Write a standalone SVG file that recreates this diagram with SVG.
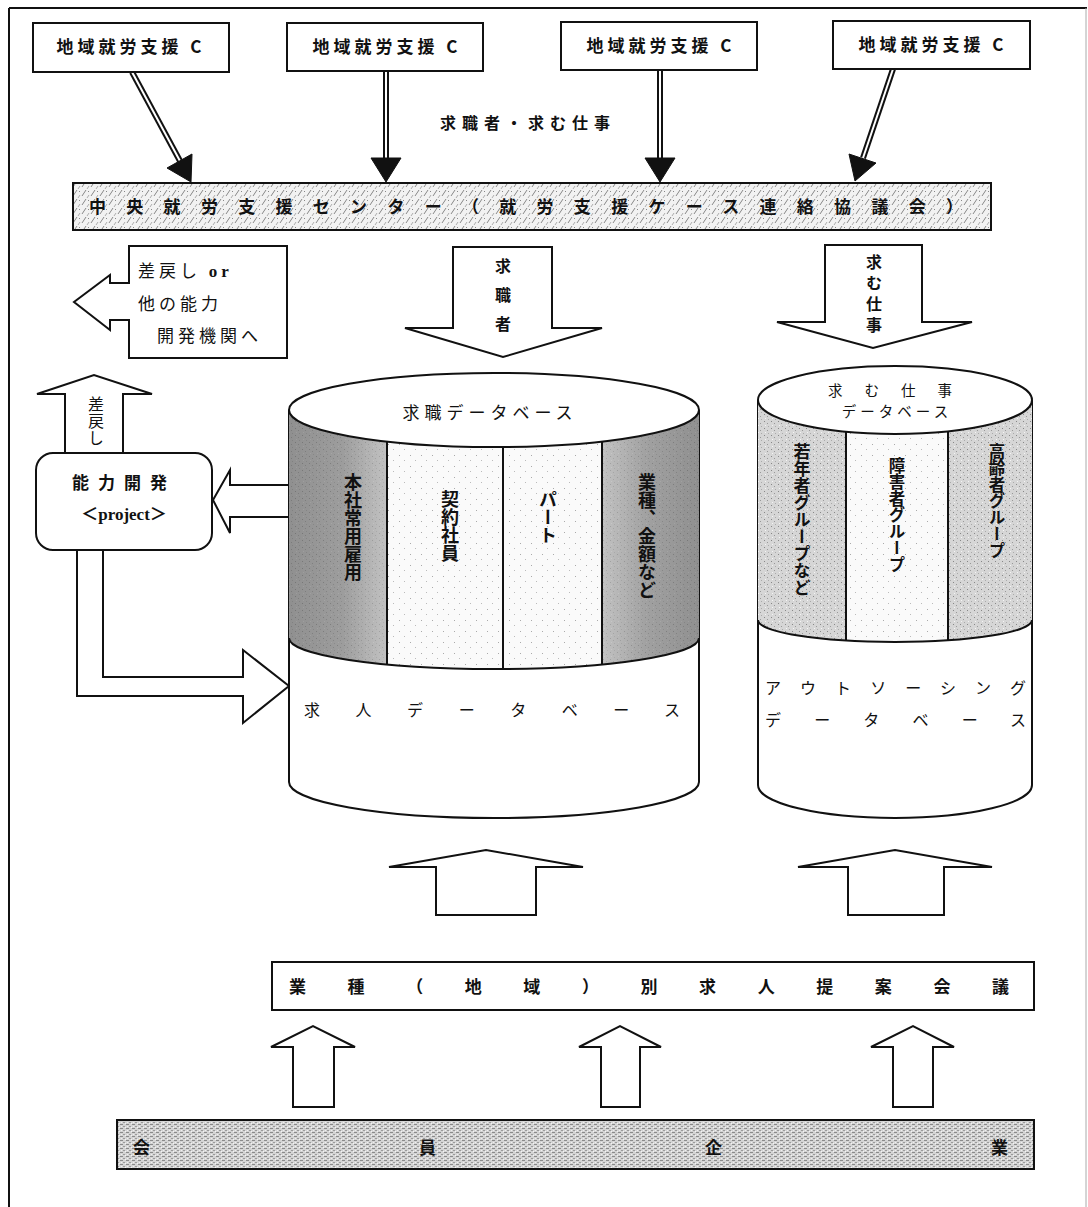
<svg xmlns="http://www.w3.org/2000/svg" width="1088" height="1207" viewBox="0 0 1088 1207">
<style>
text{font-family:"Noto Sans CJK JP","Noto Sans CJK SC",sans-serif;fill:#111}
.b{font-weight:700}
.box{fill:#fff;stroke:#111;stroke-width:2}
.ln{fill:none;stroke:#111;stroke-width:2}
.blk{fill:#111;stroke:#111;stroke-width:1}
.shaftO{fill:none;stroke:#111;stroke-width:6}
.shaftI{fill:none;stroke:#fff;stroke-width:2}
.fat{fill:#fff;stroke:#111;stroke-width:2;stroke-linejoin:miter}
.vt{writing-mode:vertical-rl;font-weight:700}
.vn{writing-mode:vertical-rl}
.lat{font-family:"Liberation Serif",serif;font-weight:700}
</style>
<defs>
<pattern id="hatch" width="9" height="9" patternUnits="userSpaceOnUse">
<rect width="9" height="9" fill="#f2f2f2"/>
<path d="M1 7 L5 1" stroke="#7a7a7a" stroke-width="0.9"/>
<path d="M6 9 L8 6" stroke="#999" stroke-width="0.8"/>
<rect x="7" y="2" width="1" height="1" fill="#888"/>
</pattern>
<pattern id="screen" width="6" height="4" patternUnits="userSpaceOnUse">
<rect width="6" height="4" fill="#d4d4d4"/>
<rect x="0" y="0" width="3" height="1" fill="#8a8a8a"/>
<rect x="3" y="2" width="2" height="1" fill="#9a9a9a"/>
<rect x="5" y="3" width="1" height="1" fill="#f4f4f4"/>
<rect x="1" y="2" width="1" height="1" fill="#f0f0f0"/>
</pattern>
<pattern id="speck" width="7" height="7" patternUnits="userSpaceOnUse">
<rect width="7" height="7" fill="#d6d6d6"/>
<rect x="1" y="1" width="1" height="1" fill="#888"/>
<rect x="4" y="3" width="1" height="1" fill="#999"/>
<rect x="2" y="5" width="1" height="1" fill="#f4f4f4"/>
<rect x="5" y="6" width="1" height="1" fill="#aaa"/>
</pattern>
<pattern id="lightspeck" width="11" height="11" patternUnits="userSpaceOnUse">
<rect width="11" height="11" fill="#fafafa"/>
<rect x="3" y="4" width="1" height="1" fill="#aaa"/>
<rect x="8" y="9" width="1" height="1" fill="#bbb"/>
</pattern>
<linearGradient id="darkL" x1="0" x2="1" y1="0" y2="0">
<stop offset="0" stop-color="#6a6a6a"/>
<stop offset="0.55" stop-color="#7e7e7e"/>
<stop offset="1" stop-color="#b8b8b8"/>
</linearGradient>
<linearGradient id="darkR" x1="0" x2="1" y1="0" y2="0">
<stop offset="0" stop-color="#b8b8b8"/>
<stop offset="0.45" stop-color="#858585"/>
<stop offset="1" stop-color="#6a6a6a"/>
</linearGradient>
<clipPath id="band1"><path d="M289 410 A205 37 0 0 0 699 410 L699 638 A205 31 0 0 1 289 638 Z"/></clipPath>
<clipPath id="band2"><path d="M758 400 A137 34 0 0 0 1032 400 L1032 620 A137 22 0 0 1 758 620 Z"/></clipPath>
</defs>

<g id="frame">
<path d="M9 8 L1087 8" stroke="#111" stroke-width="2"/>
<path d="M9 8 L9 1207" stroke="#111" stroke-width="2"/>
<path d="M1086 8 L1086 1207" stroke="#aaa" stroke-width="1"/>
</g>

<g id="connectors">
<g id="arrow-c1">
<path class="shaftO" d="M132 72 L180 161"/><path class="shaftI" d="M132 72 L180 161"/>
<polygon class="blk" points="191,182 192,154 167,168"/>
</g>
<g id="arrow-c2">
<path class="shaftO" d="M386 71 L386 160"/><path class="shaftI" d="M386 71 L386 160"/>
<polygon class="blk" points="386,182 371,158 401,158"/>
</g>
<g id="arrow-c3">
<path class="shaftO" d="M660 70 L660 160"/><path class="shaftI" d="M660 70 L660 160"/>
<polygon class="blk" points="660,182 645,158 675,158"/>
</g>
<g id="arrow-c4">
<path class="shaftO" d="M893 69 L863 158"/><path class="shaftI" d="M893 69 L863 158"/>
<polygon class="blk" points="855,181 849,154 876,163"/>
</g>
<text x="440" y="129" font-size="16" class="b" letter-spacing="6">求職者・求む仕事</text>

<g id="arrow-kyushokusha">
<polygon class="fat" points="453,247 552,247 552,328 602,328 503,357 405,328 453,328"/>
<text x="503" y="258" font-size="16" class="vt" letter-spacing="13">求職者</text>
</g>
<g id="arrow-motomushigoto">
<polygon class="fat" points="825,245 922,245 922,322 972,322 873,348 777,322 825,322"/>
<text x="874" y="254" font-size="16" class="vt" letter-spacing="5">求む仕事</text>
</g>
<g id="arrow-sashimodoshi-up">
<polygon class="fat" points="65,453 65,394 37,394 94,375 152,394 123,394 123,453"/>
<text x="96" y="396" font-size="16" class="vn" letter-spacing="1">差戻し</text>
</g>
<g id="arrow-to-nouryoku">
<polygon class="fat" points="289,485 230,485 230,470 213,500 230,533 230,517 289,517"/>
</g>
<g id="arrow-from-nouryoku">
<path class="fat" d="M77 550 L77 696 L243 696 L243 723 L289 686 L243 650 L243 677 L103 677 L103 550"/>
</g>
<g id="arrow-up-db1">
<polygon class="fat" points="436,915 536,915 536,867 583,867 486,850 389,867 436,867"/>
</g>
<g id="arrow-up-db2">
<polygon class="fat" points="848,915 944,915 944,867 992,867 895,850 798,867 848,867"/>
</g>
<g id="arrow-up-a">
<polygon class="fat" points="293,1107 334,1107 334,1047 355,1047 313,1026 271,1047 293,1047"/>
</g>
<g id="arrow-up-b">
<polygon class="fat" points="601,1107 640,1107 640,1047 661,1047 620,1026 579,1047 601,1047"/>
</g>
<g id="arrow-up-c">
<polygon class="fat" points="893,1107 933,1107 933,1047 954,1047 913,1026 871,1047 893,1047"/>
</g>
</g>

<g id="node-c1"><rect class="box" x="33" y="23" width="196" height="49"/><text x="131" y="53" font-size="17" class="b" text-anchor="middle" letter-spacing="4">地域就労支援 C</text></g>
<g id="node-c2"><rect class="box" x="287" y="23" width="196" height="48"/><text x="387" y="53" font-size="17" class="b" text-anchor="middle" letter-spacing="4">地域就労支援 C</text></g>
<g id="node-c3"><rect class="box" x="561" y="22" width="196" height="48"/><text x="661" y="52" font-size="17" class="b" text-anchor="middle" letter-spacing="4">地域就労支援 C</text></g>
<g id="node-c4"><rect class="box" x="833" y="21" width="197" height="48"/><text x="933" y="51" font-size="17" class="b" text-anchor="middle" letter-spacing="4">地域就労支援 C</text></g>

<g id="node-center">
<rect x="73" y="183" width="918" height="47" fill="url(#hatch)" stroke="#111" stroke-width="2"/>
<text x="89" y="213" font-size="17" class="b" textLength="874" lengthAdjust="spacing">中央就労支援センター（就労支援ケース連絡協議会）</text>
</g>

<g id="node-sashimodoshi">
<path class="fat" d="M129 246 L129 283 L110 283 L110 275 L74 302 L110 330 L110 320 L129 320 L129 358 L287 358 L287 246 Z"/>
<text x="138" y="277" font-size="17" letter-spacing="4">差戻し <tspan class="lat">or</tspan></text>
<text x="138" y="310" font-size="17" letter-spacing="4">他の能力</text>
<text x="157" y="342" font-size="17" letter-spacing="4">開発機関へ</text>
</g>

<g id="node-nouryoku">
<rect class="box" x="36" y="453" width="176" height="97" rx="17"/>
<text x="124" y="489" font-size="17" class="b" text-anchor="middle" letter-spacing="9">能力開発</text>
<text x="124" y="520" font-size="17" class="b" text-anchor="middle">＜<tspan class="lat">project</tspan>＞</text>
</g>

<g id="node-db1">
<path d="M289 410 L289 782 A205 36 0 0 0 699 782 L699 410" fill="#fff" stroke="#111" stroke-width="2"/>
<g clip-path="url(#band1)">
<rect x="289" y="400" width="98" height="280" fill="url(#darkL)"/>
<rect x="289" y="400" width="98" height="280" fill="url(#speck)" opacity="0.35"/>
<rect x="387" y="400" width="116" height="280" fill="url(#lightspeck)"/>
<rect x="503" y="400" width="99" height="280" fill="url(#lightspeck)"/>
<rect x="602" y="400" width="97" height="280" fill="url(#darkR)"/>
<rect x="602" y="400" width="97" height="280" fill="url(#speck)" opacity="0.35"/>
<path d="M387 400 L387 680 M503 400 L503 680 M602 400 L602 680" stroke="#111" stroke-width="2"/>
</g>
<path class="ln" d="M289 638 A205 31 0 0 0 699 638"/>
<ellipse cx="494" cy="410" rx="205" ry="37" fill="#fff" stroke="#111" stroke-width="2"/>
<text x="490" y="419" font-size="17" text-anchor="middle" letter-spacing="5">求職データベース</text>
<text x="353" y="473" font-size="18" class="vt">本社常用雇用</text>
<text x="450" y="490" font-size="18" class="vt">契約社員</text>
<text x="548" y="490" font-size="18" class="vt">パート</text>
<text x="647" y="473" font-size="18" class="vt">業種、金額など</text>
<text x="304" y="716" font-size="16" textLength="376" lengthAdjust="spacing">求人データベース</text>
</g>

<g id="node-db2">
<path d="M758 400 L758 785 A137 33 0 0 0 1032 785 L1032 400" fill="#fff" stroke="#111" stroke-width="2"/>
<g clip-path="url(#band2)">
<rect x="758" y="390" width="88" height="260" fill="url(#speck)"/>
<rect x="846" y="390" width="102" height="260" fill="url(#lightspeck)"/>
<rect x="948" y="390" width="84" height="260" fill="url(#speck)"/>
<path d="M846 390 L846 650 M948 390 L948 650" stroke="#111" stroke-width="2"/>
</g>
<path class="ln" d="M758 620 A137 22 0 0 0 1032 620"/>
<ellipse cx="895" cy="400" rx="137" ry="34" fill="#fff" stroke="#111" stroke-width="2"/>
<text x="901" y="396" font-size="14.5" text-anchor="middle" letter-spacing="22">求む仕事</text>
<text x="897" y="417" font-size="14.5" text-anchor="middle" letter-spacing="4">データベース</text>
<text x="802" y="443" font-size="17" class="vt">若年者グループなど</text>
<text x="897" y="457" font-size="16.5" class="vt">障害者グループ</text>
<text x="997" y="443" font-size="16.5" class="vt">高齢者グループ</text>
<text x="765" y="694" font-size="16" textLength="261" lengthAdjust="spacing">アウトソーシング</text>
<text x="765" y="726" font-size="16" textLength="261" lengthAdjust="spacing">データベース</text>
</g>

<g id="node-teian">
<rect class="box" x="272" y="962" width="762" height="48"/>
<text x="289" y="993" font-size="17" class="b" textLength="720" lengthAdjust="spacing">業種（地域）別求人提案会議</text>
</g>

<g id="node-kaiin">
<rect x="117" y="1120" width="917" height="49" fill="url(#screen)" stroke="#111" stroke-width="2"/>
<text x="133" y="1154" font-size="17" class="b" textLength="875" lengthAdjust="spacing">会員企業</text>
</g>
</svg>
